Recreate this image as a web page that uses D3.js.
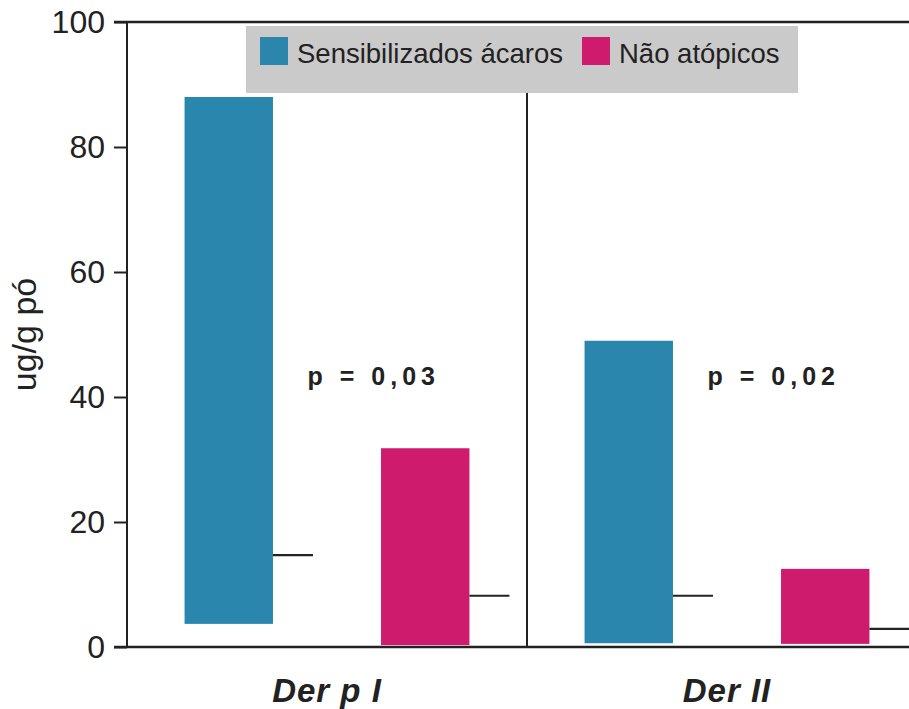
<!DOCTYPE html>
<html>
<head>
<meta charset="utf-8">
<script src="https://cdn.jsdelivr.net/npm/d3@7"></script>
<style>
  body { margin: 0; background: #fff; }
  text { font-family: "Liberation Sans", Arial, sans-serif; }
</style>
</head>
<body>
<div id="chart"></div>
<script>
// data
var groups = ["Der p I", "Der II"];
var series = ["Sensibilizados ácaros", "Não atópicos"];
var lowValues = [[3.7, 0.3], [0.6, 0.5]];
var highValues = [[88, 31.8], [49, 12.5]];
var medianValues = [[14.7, 8.2], [8.2, 2.9]];
var pValues = ["p = 0,03", "p = 0,02"];
var yTicks = [0, 20, 40, 60, 80, 100];

var width = 909, height = 709;
var margin = {left: 127, top: 22, bottom: 62};

var svg = d3.select("#chart")
  .append("svg")
    .attr("width", width)
    .attr("height", height);

var color = d3.scaleOrdinal()
  .domain(series)
  .range(["#2b86ae", "#cf1b6d"]);

// y scale
var y = d3.scaleLinear()
  .domain([0, 100])
  .range([height - margin.bottom, margin.top]);

// groups, each 400px wide
var x0 = d3.scaleBand()
  .domain(groups)
  .range([margin.left, margin.left + 800]);

var x1 = d3.scaleBand()
  .domain(series)
  .range([0, x0.bandwidth()])
  .paddingInner(0.55)
  .paddingOuter(0.293);

// Y axis
var yAxis = svg.append("g")
  .attr("transform", "translate(" + margin.left + ",0)")
  .call(d3.axisLeft(y).tickValues(yTicks).tickSize(13).tickPadding(9));
yAxis.select(".domain").remove();
yAxis.selectAll(".tick line").attr("stroke", "#222").attr("stroke-width", 2);
yAxis.selectAll(".tick text")
  .attr("font-size", "32px")
  .attr("fill", "#222")
  .attr("font-family", "Liberation Sans, Arial, sans-serif");

svg.append("line")
  .attr("x1", margin.left).attr("x2", margin.left)
  .attr("y1", y(100)).attr("y2", y(0))
  .attr("stroke", "#222").attr("stroke-width", 2);

// top and bottom lines
[100, 0].forEach(function(v) {
  svg.append("line")
    .attr("x1", margin.left - 13).attr("x2", width)
    .attr("y1", y(v)).attr("y2", y(v))
    .attr("stroke", "#222").attr("stroke-width", 2.5);
});

// y label
svg.append("text")
  .attr("transform", "translate(36," + y(50) + ") rotate(-90)")
  .attr("text-anchor", "middle")
  .attr("font-size", "34px")
  .attr("fill", "#222")
  .text("ug/g pó");

// legend
var legend = svg.append("g");
legend.append("rect")
  .attr("x", 246).attr("y", y(100) + 4)
  .attr("width", 552).attr("height", 67)
  .attr("fill", "#cacaca");

var legendX = [260, 582];
series.forEach(function(s, i) {
  legend.append("rect")
    .attr("x", legendX[i]).attr("y", 37)
    .attr("width", 28).attr("height", 28)
    .attr("fill", color(s));
  legend.append("text")
    .attr("x", legendX[i] + 37).attr("y", 63)
    .attr("font-size", "27.5px")
    .attr("fill", "#222")
    .text(s);
});

// divider between groups
svg.append("line")
  .attr("x1", x0(groups[1])).attr("x2", x0(groups[1]))
  .attr("y1", y(100) + 71).attr("y2", y(0))
  .attr("stroke", "#222").attr("stroke-width", 2);

// bars
groups.forEach(function(g, gi) {
  var gx = x0(g);
  series.forEach(function(s, si) {
    var bx = gx + x1(s);
    svg.append("rect")
      .attr("x", bx)
      .attr("y", y(highValues[gi][si]))
      .attr("width", x1.bandwidth())
      .attr("height", y(lowValues[gi][si]) - y(highValues[gi][si]))
      .attr("fill", color(s));
    svg.append("line")
      .attr("x1", bx + x1.bandwidth()).attr("x2", bx + x1.bandwidth() + 40)
      .attr("y1", y(medianValues[gi][si])).attr("y2", y(medianValues[gi][si]))
      .attr("stroke", "#222").attr("stroke-width", 2.2);
  });

  svg.append("text")
    .attr("x", gx + x0.bandwidth() * 0.617)
    .attr("y", 385)
    .attr("text-anchor", "middle")
    .attr("font-size", "25px")
    .attr("font-weight", "bold")
    .attr("letter-spacing", "5px")
    .attr("fill", "#222")
    .text(pValues[gi]);

  svg.append("text")
    .attr("x", gx + x0.bandwidth() / 2)
    .attr("y", 702)
    .attr("text-anchor", "middle")
    .attr("font-size", "33px")
    .attr("font-weight", "bold")
    .attr("font-style", "italic")
    .attr("letter-spacing", "1px")
    .attr("fill", "#222")
    .text(g);
});
</script>
</body>
</html>
